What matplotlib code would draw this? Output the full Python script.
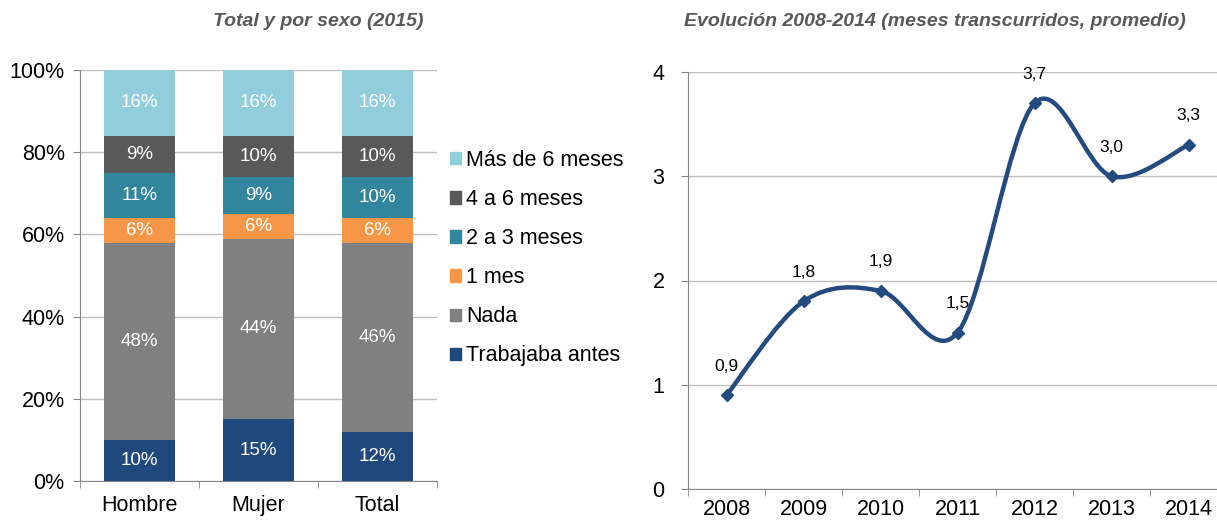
import matplotlib.pyplot as plt
import numpy as np
from matplotlib.path import Path
from matplotlib.patches import PathPatch, Patch

plt.rcParams['font.family'] = ['Liberation Sans', 'DejaVu Sans']

# left panel data (percent)
groups = ['Hombre', 'Mujer', 'Total']
series = ['Trabajaba antes', 'Nada', '1 mes', '2 a 3 meses', '4 a 6 meses', 'Más de 6 meses']
trabajaba = [10, 15, 12]
nada = [48, 44, 46]
un_mes = [6, 6, 6]
dos_tres = [11, 9, 10]
cuatro_seis = [9, 10, 10]
mas_seis = [16, 16, 16]
colors = ['#1F497D', '#808080', '#F79646', '#31859C', '#595959', '#92CDDC']

# right panel data
years = ['2008', '2009', '2010', '2011', '2012', '2013', '2014']
meses = [0.9, 1.8, 1.9, 1.5, 3.7, 3.0, 3.3]

fig = plt.figure(figsize=(12.17, 5.22), dpi=100)

grid_c = '#BFBFBF'
spine_c = '#868686'
title_c = '#595959'
tick_fs = 15.5

# ---- stacked bars
ax = fig.add_axes([80/1217, 41/522, 357/1217, 411/522])
x = np.arange(len(groups))
bottom = np.zeros(len(groups))
for name, vals, c in zip(series, [trabajaba, nada, un_mes, dos_tres, cuatro_seis, mas_seis], colors):
    vals = np.array(vals)
    ax.bar(x, vals / 100, 0.6, bottom=bottom / 100, color=c, label=name, zorder=3)
    for xi, b, v in zip(x, bottom, vals):
        ax.text(xi, (b + v / 2) / 100, f'{v}%', ha='center', va='center',
                color='white', fontsize=13.5, zorder=4)
    bottom += vals

ax.set_xlim(-0.5, 2.5)
ax.set_ylim(0, 1)
ax.set_yticks(np.arange(0, 1.01, 0.2))
ax.set_yticklabels([f'{int(round(v*100))}%' for v in np.arange(0, 1.01, 0.2)], fontsize=tick_fs)
ax.set_xticks(x)
ax.set_xticklabels(groups, fontsize=tick_fs)
ax.set_xticks([-0.5, 0.5, 1.5, 2.5], minor=True)
ax.tick_params(axis='x', which='major', length=0, pad=10)
ax.tick_params(axis='x', which='minor', length=5, color=spine_c, direction='out')
ax.tick_params(axis='y', length=5, color=spine_c, pad=6)
ax.grid(axis='y', color=grid_c, linewidth=1, zorder=0)
for s in ['top', 'right']:
    ax.spines[s].set_visible(False)
for s in ['left', 'bottom']:
    ax.spines[s].set_color(spine_c)

handles = [Patch(color=c, label=n) for n, c in zip(series, colors)][::-1]
ax.legend(handles=handles, loc='upper left', bbox_to_anchor=(450/1217, 1 - 150/522),
          bbox_transform=fig.transFigure, frameon=False, fontsize=tick_fs,
          handlelength=0.5, handleheight=0.5, handletextpad=0.25,
          labelspacing=0.84, borderaxespad=0, borderpad=0)

fig.text(318/1217, 1 - 22/522, 'Total y por sexo (2015)', ha='center', va='center',
         fontsize=14, fontweight='bold', fontstyle='italic', color=title_c)

# ---- smoothed line
ax2 = fig.add_axes([688/1217, 33/522, 539/1217, 417/522])
xs = np.arange(len(years)) + 0.5
ys = np.array(meses)
pts = np.column_stack([xs, ys])
verts = [pts[0]]
codes = [Path.MOVETO]
n = len(pts)
for i in range(n - 1):
    p0 = pts[i - 1] if i > 0 else pts[i]
    p3 = pts[i + 2] if i + 2 < n else pts[i + 1]
    c1 = pts[i] + (pts[i + 1] - p0) / 6
    c2 = pts[i + 1] - (p3 - pts[i]) / 6
    verts += [c1, c2, pts[i + 1]]
    codes += [Path.CURVE4] * 3
line_c = '#244B7F'
ax2.add_patch(PathPatch(Path(verts, codes), facecolor='none', edgecolor=line_c,
                        linewidth=3.2, capstyle='round', zorder=3))
ax2.plot(xs, ys, linestyle='none', marker='D', markersize=6, color=line_c, zorder=4)
for xi, v in zip(xs, meses):
    ax2.annotate(f'{v:.1f}'.replace('.', ','), (xi, v), xytext=(0, 21),
                 textcoords='offset points', ha='center', va='center', fontsize=12.5)

ax2.set_xlim(0, 7)
ax2.set_ylim(0, 4)
ax2.set_yticks(range(5))
ax2.set_yticklabels([str(i) for i in range(5)], fontsize=tick_fs)
ax2.set_xticks(xs)
ax2.set_xticklabels(years, fontsize=tick_fs)
ax2.set_xticks(np.arange(0, 8), minor=True)
ax2.tick_params(axis='x', which='major', length=0, pad=7)
ax2.tick_params(axis='x', which='minor', length=5, color=spine_c)
ax2.tick_params(axis='y', length=5, color=spine_c, pad=12)
ax2.grid(axis='y', color=grid_c, linewidth=1, zorder=0)
for s in ['top', 'right']:
    ax2.spines[s].set_visible(False)
for s in ['left', 'bottom']:
    ax2.spines[s].set_color(spine_c)

fig.text(935/1217, 1 - 22/522, 'Evolución 2008-2014 (meses transcurridos, promedio)',
         ha='center', va='center', fontsize=14, fontweight='bold', fontstyle='italic',
         color=title_c)

fig.savefig('out.png', dpi=100)
